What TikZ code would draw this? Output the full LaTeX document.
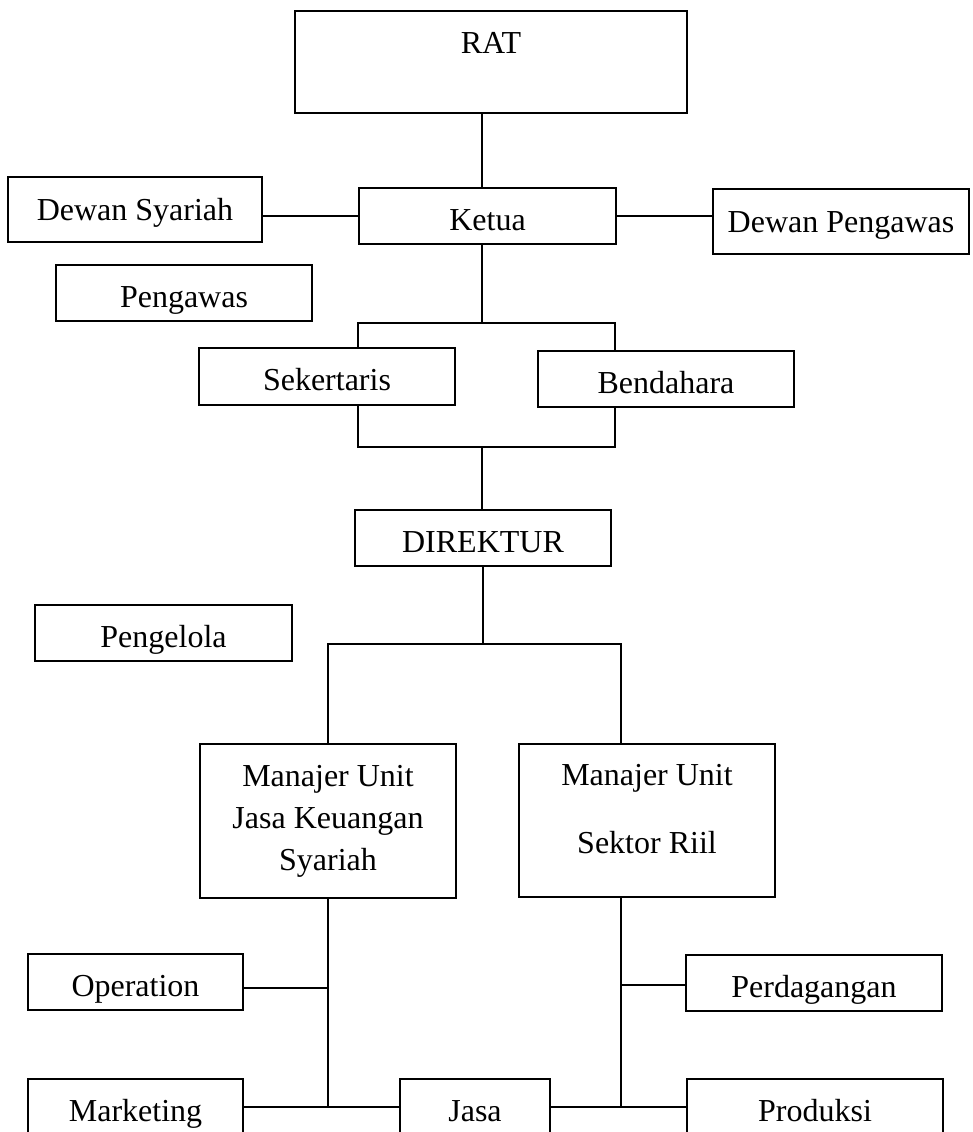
\documentclass[tikz,border=0pt]{standalone}
\usepackage{fontspec}
\setmainfont{Liberation Serif}
\usetikzlibrary{positioning}

\begin{document}
\begin{tikzpicture}[
        x=1pt, y=-1pt,
        box/.style={draw, rectangle, line width=1.3pt, inner sep=0pt, minimum width=256pt, minimum height=56pt, align=center},
        block/.style={box, text height=28pt, text depth=0pt},
        link/.style={line width=1.6pt},
        font=\fontsize{32}{42}\selectfont
      ]
      \clip (0,0) rectangle (973,1132);

      % Pengurus
      \node [box, minimum width=392pt, minimum height=102pt] (rat) at (491,62) {\raisebox{19pt}[\height][\depth]{RAT}};
      \node [block, minimum width=257pt] (ketua) at (487.5,216) {Ketua};
      \node [block, text height=21pt, minimum width=254pt, minimum height=65pt] (syariah) at (135,209.5) {Dewan Syariah};
      \node [block, text height=21pt, minimum height=65pt] (dewanpengawas) at (841,221.5) {Dewan Pengawas};
      \node [block] (pengawas) at (184,293) {Pengawas};
      \node [block, minimum height=57pt] (sekertaris) at (327,376.5) {Sekertaris};
      \node [block] (bendahara) at (666,379) {Bendahara};

      % Pengelola
      \node [block] (direktur) at (483,538) {DIREKTUR};
      \node [block, minimum width=257pt] (pengelola) at (163.5,633) {Pengelola};
      \node [box, minimum height=154pt] (mujks) at (328,821) {Manajer Unit\\Jasa Keuangan\\Syariah};
      \node [box, minimum height=153pt] (musr) at (647,820.5) {\raisebox{9pt}[\height][\depth]{\begin{tabular}{@{}c@{}}Manajer Unit\\[26pt]Sektor Riil\end{tabular}}};
      \node [block, minimum width=215pt] (operation) at (135.5,982) {Operation};
      \node [block, minimum width=215pt] (marketing) at (135.5,1107) {Marketing};
      \node [block, minimum width=150pt] (jasa) at (475,1107) {Jasa};
      \node [block] (perdagangan) at (814,983) {Perdagangan};
      \node [block] (produksi) at (815,1107) {Produksi};

      % Junctions
      \coordinate (ax) at (482,323);
      \coordinate (sl) at (358,323);
      \coordinate (sr) at (615,323);
      \coordinate (bl) at (358,447);
      \coordinate (br) at (615,447);
      \coordinate (dx) at (483,644);
      \coordinate (ml) at (328,644);
      \coordinate (mr) at (621,644);
      \coordinate (lo) at (328,988);
      \coordinate (rp) at (621,985);

      % Connectors
      \draw[link] (rat.south -| ax) -- (ketua.north -| ax);
      \draw[link] (ketua.west -| syariah.east) -- (ketua.west);
      \draw[link] (ketua.east) -- (ketua.east -| dewanpengawas.west);
      \draw[link] (ketua.south -| ax) -- (ax);
      \draw[link] (sekertaris.north -| sl) -- (sl) -- (sr) -- (bendahara.north -| sr);
      \draw[link] (sekertaris.south -| bl) -- (bl) -- (br) -- (bendahara.south -| br);
      \draw[link] (bl -| ax) -- (direktur.north -| ax);
      \draw[link] (direktur.south -| dx) -- (dx);
      \draw[link] (mujks.north -| ml) -- (ml) -- (mr) -- (musr.north -| mr);
      \draw[link] (mujks.south -| ml) -- (marketing.east -| ml);
      \draw[link] (operation.east |- lo) -- (lo);
      \draw[link] (marketing.east) -- (jasa.west);
      \draw[link] (musr.south -| mr) -- (jasa.east -| mr);
      \draw[link] (perdagangan.west |- rp) -- (rp);
      \draw[link] (jasa.east) -- (produksi.west);

    \end{tikzpicture}
\end{document}
